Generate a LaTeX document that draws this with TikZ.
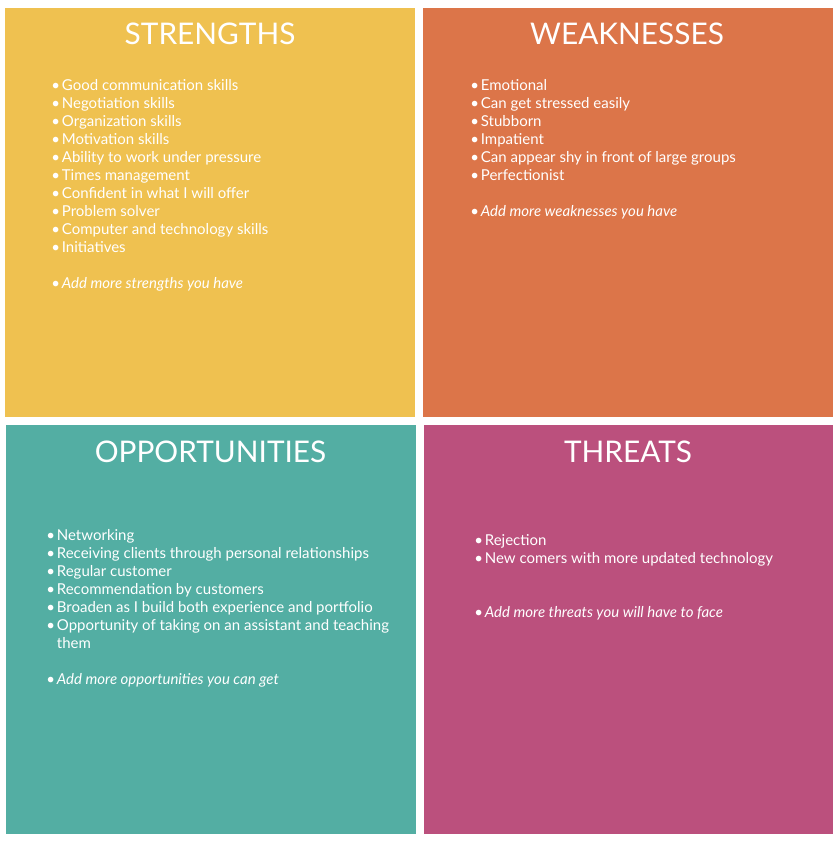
\documentclass[tikz,border=0pt]{standalone}
\usepackage{fontspec}
\setmainfont{Lato}
\definecolor{strengthfill}{HTML}{EFC150}
\definecolor{weakfill}{HTML}{DC7549}
\definecolor{oppfill}{HTML}{53AEA3}
\definecolor{threatfill}{HTML}{BB507D}
\newcommand{\itm}{\makebox[10.5pt][l]{\textbullet}}
\tikzset{every picture/.style={line width=0.75pt}}
\tikzset{
  paneltitle/.style={text=white,inner sep=0pt,anchor=base,font=\fontsize{29.8}{34}\selectfont},
  panellist/.style={text=white,inner sep=0pt,anchor=north west,align=left,font=\fontsize{15}{18}\selectfont}
}

\begin{document}
\begin{tikzpicture}[x=1pt,y=1pt,yscale=-1,xscale=1]
\useasboundingbox (0,0) rectangle (833,843);

%Shape: Rectangle [id:strengths]
\fill[strengthfill] (5,8) rectangle (415,417);
%Shape: Rectangle [id:weaknesses]
\fill[weakfill] (423,8) rectangle (833,417);
%Shape: Rectangle [id:opportunities]
\fill[oppfill] (6,425) rectangle (416,834);
%Shape: Rectangle [id:threats]
\fill[threatfill] (424,425) rectangle (833,834);

% Titles
\node[paneltitle] (sttitle) at (210,45) {STRENGTHS};
\node[paneltitle] (wktitle) at (627,45) {WEAKNESSES};
\node[paneltitle] (optitle) at (210.5,462) {OPPORTUNITIES};
\node[paneltitle] (thtitle) at (628,462) {THREATS};

% Lists
\node[panellist] (stlist) at (51,77.4) {\strut\itm Good communication skills\\
\strut\itm Negotiation skills\\
\strut\itm Organization skills\\
\strut\itm Motivation skills\\
\strut\itm Ability to work under pressure\\
\strut\itm Times management\\
\strut\itm Confident in what I will offer\\
\strut\itm Problem solver\\
\strut\itm Computer and technology skills\\
\strut\itm Initiatives\\[18pt]
\strut\itm \textit{Add more strengths you have}};

\node[panellist] (wklist) at (470,77.4) {\strut\itm Emotional\\
\strut\itm Can get stressed easily\\
\strut\itm Stubborn\\
\strut\itm Impatient\\
\strut\itm Can appear shy in front of large groups\\
\strut\itm Perfectionist\\[18pt]
\strut\itm \textit{Add more weaknesses you have}};

\node[panellist] (oplist) at (46,527.4) {\strut\itm Networking\\
\strut\itm Receiving clients through personal relationships\\
\strut\itm Regular customer\\
\strut\itm Recommendation by customers\\
\strut\itm Broaden as I build both experience and portfolio\\
\strut\itm Opportunity of taking on an assistant and teaching\\
\strut\hspace{10.5pt}them\\[18pt]
\strut\itm \textit{Add more opportunities you can get}};

\node[panellist] (thlist) at (474,532.4) {\strut\itm Rejection\\
\strut\itm New comers with more updated technology\\[36pt]
\strut\itm \textit{Add more threats you will have to face}};
\end{tikzpicture}
\end{document}
